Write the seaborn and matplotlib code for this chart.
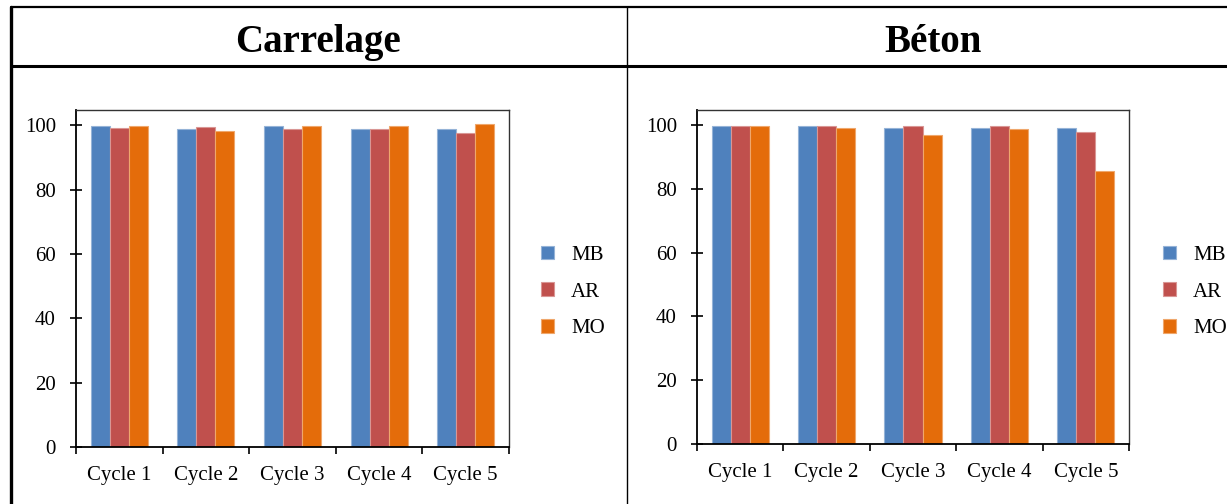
# Grouped bar charts: Carrelage vs Béton, five cycles, three series
import pandas as pd
import seaborn as sns
import matplotlib.pyplot as plt
from matplotlib.lines import Line2D
from matplotlib.colors import to_rgb

# Data
cycles = ["Cycle 1", "Cycle 2", "Cycle 3", "Cycle 4", "Cycle 5"]
series = ["MB", "AR", "MO"]

carrelage_mb = [99.7, 98.8, 99.7, 98.8, 98.8]
carrelage_ar = [99.2, 99.3, 98.8, 98.8, 97.7]
carrelage_mo = [99.7, 98.1, 99.7, 99.7, 100.2]

beton_mb = [99.7, 99.7, 99.2, 99.2, 99.2]
beton_ar = [99.7, 99.7, 99.7, 99.7, 97.7]
beton_mo = [99.7, 99.2, 96.9, 98.7, 85.7]

yticks = [0, 20, 40, 60, 80, 100]

colors = {"MB": "#4F81BD", "AR": "#C0504D", "MO": "#E46C0A"}


def long_table(mb, ar, mo):
    rows = []
    for name, vals in zip(series, [mb, ar, mo]):
        for c, v in zip(cycles, vals):
            rows.append({"Cycle": c, "Serie": name, "Valeur": v})
    return pd.DataFrame(rows)


sns.set_style("white")
plt.rcParams["font.family"] = ["Liberation Serif", "DejaVu Serif"]
plt.rcParams["font.size"] = 14
plt.rcParams["text.color"] = "black"
plt.rcParams["xtick.color"] = "black"
plt.rcParams["ytick.color"] = "black"
plt.rcParams["axes.labelcolor"] = "black"

W, H = 1227, 504
fig = plt.figure(figsize=(W / 100, H / 100), dpi=100)


def px_axes(x0, x1, ytop, ybot):
    return fig.add_axes([x0 / W, 1 - ybot / H, (x1 - x0) / W, (ybot - ytop) / H])


# Table frame drawn on the figure
def fig_line(xs, ys, lw):
    fig.add_artist(Line2D([x / W for x in xs], [1 - y / H for y in ys],
                          color="black", linewidth=lw, transform=fig.transFigure))


fig_line([11, 1240], [7, 7], 1.6)
fig_line([11, 1240], [65.5, 65.5], 2.2)
fig_line([11, 11], [7, 520], 2.4)
fig_line([626.5, 626.5], [7, 520], 1.0)

fig.text(318 / W, 1 - 52 / H, "Carrelage", ha="center", va="baseline",
         fontsize=28, fontweight="bold", color="black")
fig.text(933 / W, 1 - 52 / H, "Béton", ha="center", va="baseline",
         fontsize=28, fontweight="bold", color="black")

panels = [
    (long_table(carrelage_mb, carrelage_ar, carrelage_mo), (76, 509, 110, 447), 541),
    (long_table(beton_mb, beton_ar, beton_mo), (697, 1129, 110, 444), 1163),
]

for data, box, leg_x in panels:
    ax = px_axes(*box)
    sns.barplot(data=data, x="Cycle", y="Valeur", hue="Serie",
                palette=colors, saturation=1, width=0.66, ax=ax)

    # lighter edge on each bar, like the original
    for patch in ax.patches:
        r, g, b = to_rgb(patch.get_facecolor())
        patch.set_edgecolor((r + (1 - r) * 0.4, g + (1 - g) * 0.4, b + (1 - b) * 0.4))
        patch.set_linewidth(0.8)

    ax.set_xlim(-0.5, 4.5)
    ax.set_ylim(0, 104.7)
    ax.set_yticks(yticks)
    ax.set_xlabel("")
    ax.set_ylabel("")

    ax.set_xticks(range(len(cycles)))
    ax.set_xticklabels(cycles)
    ax.set_xticks([i - 0.5 for i in range(len(cycles) + 1)], minor=True)
    ax.tick_params(axis="x", which="major", length=0, pad=14, labelsize=15)
    ax.tick_params(axis="x", which="minor", length=5, width=1.2, direction="out",
                   bottom=True, color="black")
    ax.tick_params(axis="y", length=9, width=1.2, direction="inout", left=True,
                   pad=10, labelsize=15, color="black")

    for side in ["left", "bottom"]:
        ax.spines[side].set_color("black")
        ax.spines[side].set_linewidth(1.3)
    for side in ["top", "right"]:
        ax.spines[side].set_color("#333333")
        ax.spines[side].set_linewidth(1.0)

    handles, labels = ax.get_legend_handles_labels()
    ax.legend(handles, labels, loc="center left",
              bbox_to_anchor=(leg_x / W, 1 - 292 / H), bbox_transform=fig.transFigure,
              frameon=False, borderpad=0, borderaxespad=0,
              handlelength=0.62, handleheight=0.62, handletextpad=0.82,
              labelspacing=0.85, fontsize=15)

fig.savefig("out.png", dpi=100)
